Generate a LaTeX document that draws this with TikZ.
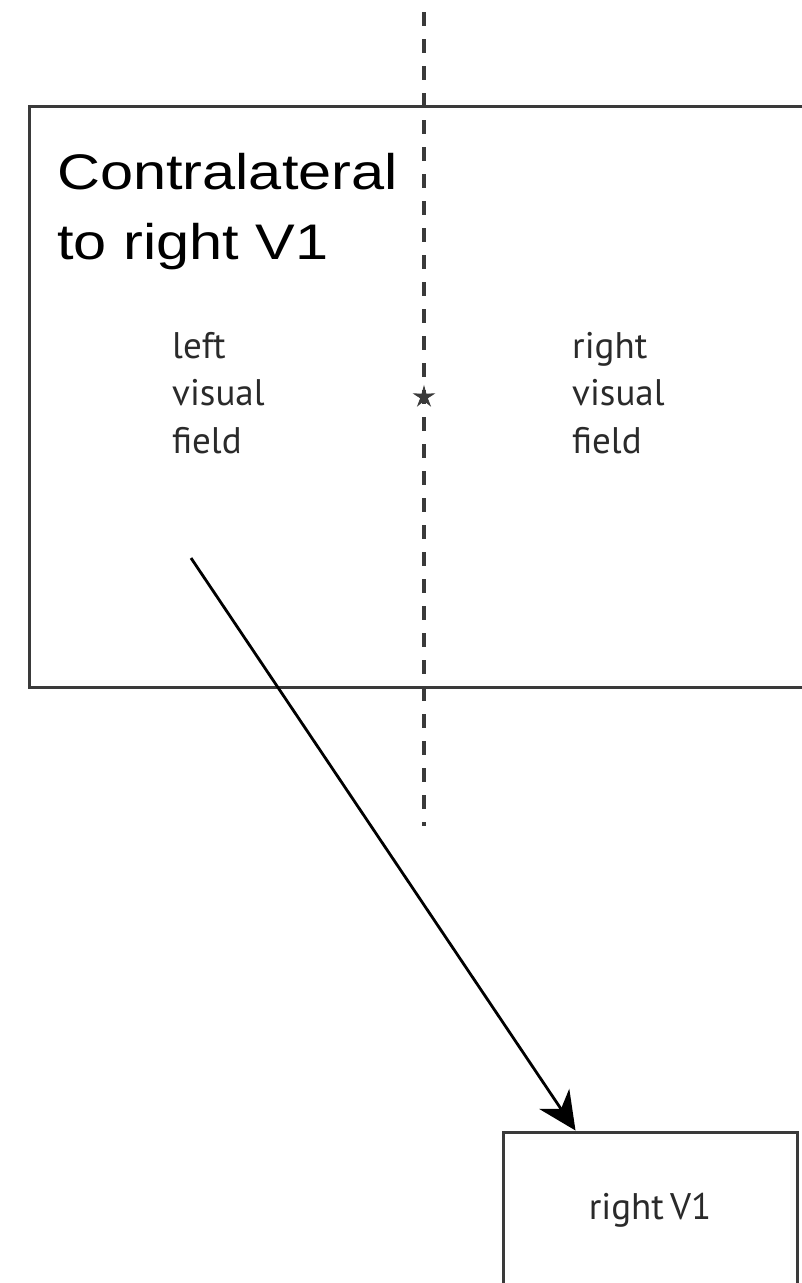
\documentclass[tikz,border=0pt]{standalone}
\usepackage{fontspec}
\setmainfont{Liberation Sans}
\newfontfamily\smallfont{PT Sans}
\usetikzlibrary{arrows.meta,shapes.geometric}
\definecolor{linegray}{HTML}{3A3A3A}
\definecolor{textgray}{HTML}{2A2A2A}
\tikzset{
  boxstyle/.style={draw=linegray, line width=3pt, inner sep=0pt},
  midline/.style={draw=linegray, line width=3.2pt, dash pattern=on 14pt off 13pt},
  fieldtext/.style={font=\smallfont\fontsize{37}{47.5}\selectfont, text=textgray, align=left, inner sep=0pt, anchor=base west},
  titletext/.style={font=\fontsize{50}{70}\selectfont, align=left, inner sep=0pt, anchor=base west},
  projarrow/.style={draw=black, line width=2.8pt, -{Stealth[length=38pt, width=36pt, inset=12pt]}}
}
\begin{document}
\begin{tikzpicture}[x=1pt, y=-1pt]
\useasboundingbox (0,0) rectangle (802,1283);
\clip (0,0) rectangle (802,1283);
\fill[white] (0,0) rectangle (802,1283);
% big field box
\node[boxstyle, anchor=north west, minimum width=800pt, minimum height=581pt] (field) at (28,105) {};
% midline
\coordinate (mtop) at (424,12);
\coordinate (mbot) at (424,826);
\draw[midline] (mtop) -- (mbot);
% fixation star
\node[star, star points=5, star point ratio=3, fill=linegray, draw=linegray, line width=0.8pt, minimum size=21pt, inner sep=0pt] (fix) at (424,397) {};
% title
\node[titletext] (title) at (57,259) {\scalebox{1.19}[1]{Contralateral}\\\scalebox{1.19}[1]{to right V1}};
% field labels
\node[fieldtext] (lvf) at (172,453) {left\\visual\\field};
\node[fieldtext] (rvf) at (572,453) {right\\visual\\field};
% V1 box
\node[boxstyle, minimum width=294pt, minimum height=156pt, font=\smallfont\fontsize{37}{40}\selectfont, text=textgray] (v1) at (650,1210) {right\,V1};
% projection arrow
\coordinate (src) at (191,558);
\draw[projarrow] (src) -- ([xshift=74pt]v1.north west);
\end{tikzpicture}
\end{document}
